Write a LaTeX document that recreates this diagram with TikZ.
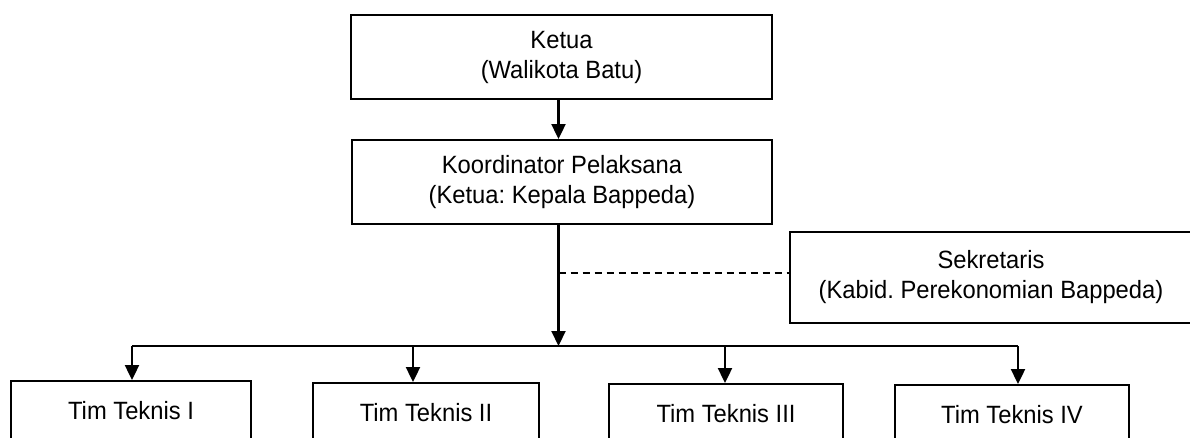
\documentclass[tikz,border=0pt]{standalone}
\usepackage{fontspec}
\setmainfont[FakeStretch=0.95]{Liberation Sans}
\usetikzlibrary{arrows.meta}
\frenchspacing
\begin{document}
\begin{tikzpicture}[x=1pt,y=-1pt,
  box/.style={draw, line width=1.9pt, inner sep=0pt, align=center,
    font=\fontsize{25}{30}\selectfont\frenchspacing},
  arr/.style={line width=2.1pt, -{Triangle[length=15pt,width=14pt]}},
  conn/.style={line width=2.1pt},
  dashline/.style={line width=1.6pt, dash pattern=on 7pt off 5pt}]
\useasboundingbox (0,0) rectangle (1190,437);
\clip (0,0) rectangle (1190,437);
% boxes
\node[box, minimum width=421pt, minimum height=84pt] (ketua) at (561.5,57) {Ketua\\(Walikota Batu)};
\node[box, minimum width=420pt, minimum height=84pt] (koord) at (562,182) {Koordinator Pelaksana\\(Ketua: Kepala Bappeda)};
\node[box, minimum width=402pt, minimum height=91pt] (sek) at (991,277.5) {Sekretaris\\(Kabid. Perekonomian Bappeda)};
\node[box, minimum width=240pt, minimum height=60pt] (t1) at (131,411) {Tim Teknis I};
\node[box, minimum width=226pt, minimum height=60pt] (t2) at (426,413) {Tim Teknis II};
\node[box, minimum width=234pt, minimum height=60pt] (t3) at (726,414) {Tim Teknis III};
\node[box, minimum width=234pt, minimum height=60pt] (t4) at (1012,415) {Tim Teknis IV};
% coordinates
\coordinate (spine) at (558.5,0);
\coordinate (bus) at (558.5,346);
\coordinate (dj) at (558.5,273);
\coordinate (a1) at (132,346);
\coordinate (a2) at (413,346);
\coordinate (a3) at (725,346);
\coordinate (a4) at (1018,346);
% connectors
\draw[arr] (ketua.south -| spine) -- (koord.north -| spine);
\draw[arr] (koord.south -| spine) -- (bus);
\draw[dashline] (dj) -- (dj -| sek.west);
\draw[conn] (a1) -- (a4);
\draw[arr] (a1) -- (a1 |- t1.north);
\draw[arr] (a2) -- (a2 |- t2.north);
\draw[arr] (a3) -- (a3 |- t3.north);
\draw[arr] (a4) -- (a4 |- t4.north);
\end{tikzpicture}
\end{document}
